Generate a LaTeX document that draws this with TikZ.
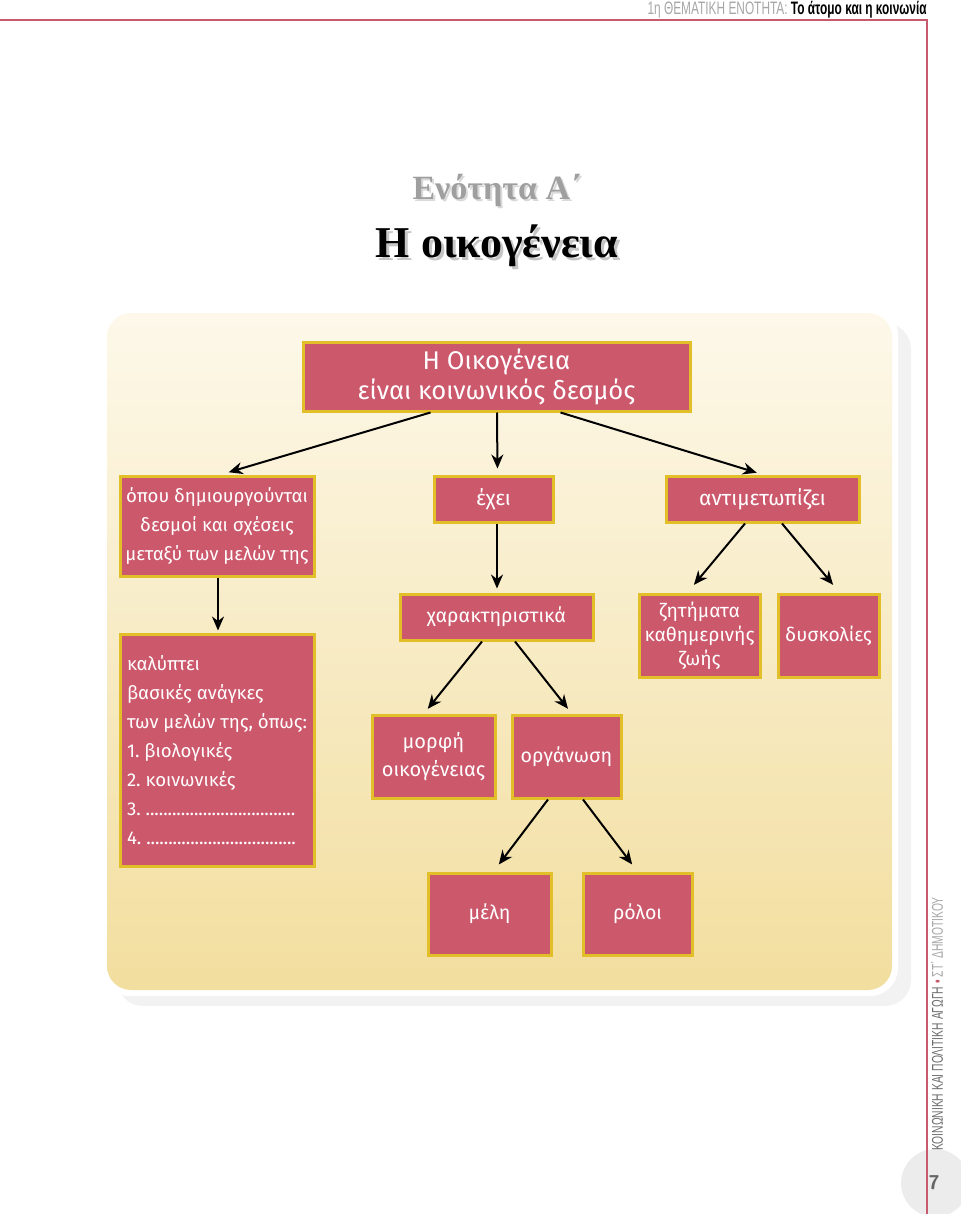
\documentclass[tikz,border=0pt]{standalone}
\usepackage{fontspec}
\setmainfont{Liberation Serif}
\newfontfamily\boxfont{Fira Sans}
\newfontfamily\condfont{Liberation Sans}[FakeStretch=0.66]
\usetikzlibrary{arrows.meta}
\frenchspacing

\definecolor{boxred}{RGB}{204,88,108}
\definecolor{boxyellow}{RGB}{226,190,40}
\definecolor{paneltop}{RGB}{253,248,234}
\definecolor{panelbot}{RGB}{242,222,158}
\definecolor{pageline}{RGB}{200,90,110}

\newcommand{\dotline}{\makebox[76pt][l]{\leaders\hbox to 2.2pt{\hss.\hss}\hfill}}

\tikzset{
  cbox/.style={draw=boxyellow, fill=boxred, line width=1.5pt, text=white,
    font=\boxfont\fontsize{9.8}{12.5}\selectfont, align=center, inner sep=1pt},
  arr/.style={-{Stealth[length=7pt,width=6pt]}, line width=1pt}
}

\begin{document}
\begin{tikzpicture}[x=0.5pt, y=-0.5pt]
  \useasboundingbox (0,0) rectangle (960,1214);

  % Page frame
  \fill[gray!15] (935,1183) circle (34);
  \draw[pageline, line width=1pt] (0,20) -- (927,20) -- (927,1214);
  \node[anchor=base east, inner sep=0pt, font=\condfont\fontsize{9}{11}\selectfont] (hdr) at (927,15)
    {{\color{gray!70}1η ΘΕΜΑΤΙΚΗ ΕΝΟΤΗΤΑ:} \textbf{Το άτομο και η κοινωνία}};
  \node[rotate=90, inner sep=0pt, font=\condfont\fontsize{7.8}{9}\selectfont] (ftr) at (937,1024)
    {{\color{gray!85!black}ΚΟΙΝΩΝΙΚΗ ΚΑΙ ΠΟΛΙΤΙΚΗ ΑΓΩΓΗ} {\color{boxred}•} {\color{gray!70}ΣΤ΄ ΔΗΜΟΤΙΚΟΥ}};
  \node[font=\sffamily\bfseries\fontsize{10}{12}\selectfont, text=gray!80!black] (pnum) at (934,1183) {7};

  % Title
  \node[font=\bfseries\fontsize{17}{20}\selectfont, text=gray!30] at (499,192) {Ενότητα Α΄};
  \node[font=\bfseries\fontsize{17}{20}\selectfont, text=gray!75] (unit) at (497,190) {Ενότητα Α΄};
  \node[font=\bfseries\fontsize{22}{26}\selectfont, text=gray!45] at (500,249) {Η οικογένεια};
  \node[font=\bfseries\fontsize{22}{26}\selectfont] (title) at (497,246) {Η οικογένεια};

  % Panel
  \fill[gray!10, rounded corners=13pt] (117,323) rectangle (911,1006);
  \fill[white, rounded corners=14pt] (101,307) rectangle (898,996);
  \shade[top color=paneltop, bottom color=panelbot, rounded corners=12pt] (107,313) rectangle (892,990);

  % Boxes
  \node[cbox, minimum width=193.5pt, minimum height=34.5pt, font=\boxfont\fontsize{12.8}{15}\selectfont] (fam) at (496.5,376.5)
    {Η Οικογένεια\\είναι κοινωνικός δεσμός};
  \node[cbox, minimum width=97pt, minimum height=50pt, font=\boxfont\fontsize{9.3}{14.5}\selectfont] (bonds) at (217,526)
    {όπου δημιουργούνται\\δεσμοί και σχέσεις\\μεταξύ των μελών της};
  \node[cbox, minimum width=59.5pt, minimum height=23pt, font=\boxfont\fontsize{10.5}{13}\selectfont] (has) at (493.5,499) {έχει};
  \node[cbox, minimum width=96.5pt, minimum height=23pt, font=\boxfont\fontsize{10.5}{13}\selectfont] (faces) at (762.5,499) {αντιμετωπίζει};
  \node[cbox, minimum width=97pt, minimum height=116pt, align=left,
    font=\boxfont\fontsize{9.3}{14.5}\selectfont] (needs) at (217,750)
    {καλύπτει\\βασικές ανάγκες\\των μελών της, όπως:\\1. βιολογικές\\2. κοινωνικές\\3. \dotline\\4. \dotline};
  \node[cbox, minimum width=96.5pt, minimum height=23pt] (traits) at (496.5,617) {χαρακτηριστικά};
  \node[cbox, minimum width=60.5pt, minimum height=41.5pt, font=\boxfont\fontsize{9.6}{12}\selectfont] (issues) at (699.5,635.5)
    {ζητήματα\\καθημερινής\\ζωής};
  \node[cbox, minimum width=50.5pt, minimum height=41.5pt, font=\boxfont\fontsize{9.6}{12}\selectfont] (troubles) at (828.5,635.5) {δυσκολίες};
  \node[cbox, minimum width=61.5pt, minimum height=41.5pt, font=\boxfont\fontsize{10}{14}\selectfont] (form) at (433.5,756.5) {μορφή\\οικογένειας};
  \node[cbox, minimum width=54.5pt, minimum height=41.5pt] (org) at (566.5,756.5) {οργάνωση};
  \node[cbox, minimum width=61.5pt, minimum height=41pt] (members) at (489.5,914) {μέλη};
  \node[cbox, minimum width=54.5pt, minimum height=41pt] (roles) at (637.5,914) {ρόλοι};

  % Arrows
  \draw[arr, shorten >=4pt] ([xshift=-33pt]fam.south) -- ([xshift=2pt]bonds.north);
  \draw[arr, shorten >=3pt] ([xshift=0.25pt]fam.south) -- ([xshift=2pt]has.north);
  \draw[arr, shorten >=3pt] ([xshift=32pt]fam.south) -- (faces.north);
  \draw[arr, shorten >=1pt] ([xshift=0.5pt]bonds.south) -- ([xshift=0.5pt]needs.north);
  \draw[arr, shorten >=2pt] ([xshift=1.75pt]has.south) -- ([xshift=0.25pt]traits.north);
  \draw[arr, shorten >=5pt] ([xshift=-8.75pt]faces.south) -- ([xshift=-6pt]issues.north);
  \draw[arr, shorten >=5pt] ([xshift=9.75pt]faces.south) -- ([xshift=5.5pt]troubles.north);
  \draw[arr, shorten >=3pt] ([xshift=-7.25pt]traits.south) -- ([xshift=-4.75pt]form.north);
  \draw[arr, shorten >=3pt] ([xshift=9.25pt]traits.south) -- ([xshift=2.6pt]org.north);
  \draw[arr, shorten >=4.4pt] ([xshift=-9.25pt]org.south) -- ([xshift=2pt]members.north);
  \draw[arr, shorten >=4.4pt] ([xshift=8.25pt]org.south) -- (roles.north);
\end{tikzpicture}
\end{document}
